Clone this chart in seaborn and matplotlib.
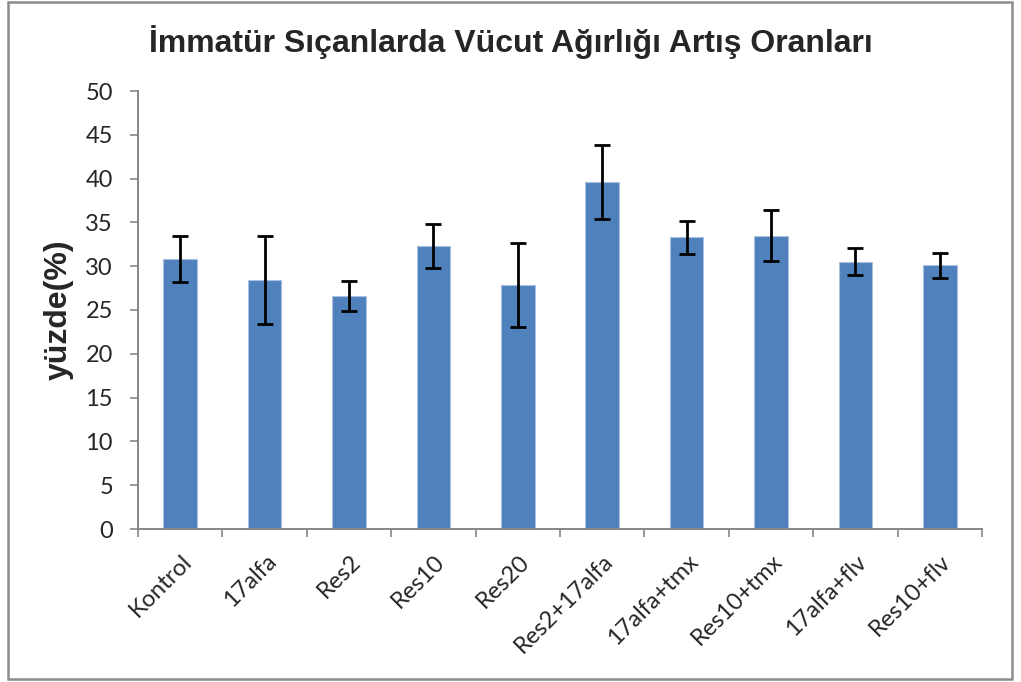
import numpy as np
import pandas as pd
import seaborn as sns
import matplotlib.pyplot as plt
import matplotlib.transforms as mtransforms
from matplotlib.patches import Rectangle

# groups and values
groups = ["Kontrol", "17alfa", "Res2", "Res10", "Res20", "Res2+17alfa",
          "17alfa+tmx", "Res10+tmx", "17alfa+flv", "Res10+flv"]
means = [30.8, 28.4, 26.6, 32.3, 27.9, 39.6, 33.3, 33.5, 30.5, 30.1]
errors = [2.6, 5.0, 1.75, 2.5, 4.8, 4.25, 1.9, 2.95, 1.55, 1.4]

df = pd.DataFrame({"grup": groups, "yuzde": means})

sns.set_style("white")
plt.rcParams["font.family"] = ["Lato", "DejaVu Sans"]
bold_font = ["Liberation Sans", "DejaVu Sans"]

fig = plt.figure(figsize=(10.21, 6.82), dpi=100)
ax = fig.add_axes([138 / 1021, 1 - 529 / 682, (982 - 138) / 1021, (529 - 91) / 682])

sns.barplot(data=df, x="grup", y="yuzde", color="#4F81BD", width=0.4,
            errorbar=None, saturation=1, edgecolor="#A9C0DE", linewidth=0.8, ax=ax)
ax.errorbar(x=np.arange(len(groups)), y=means, yerr=errors, fmt="none",
            ecolor="black", elinewidth=2, capsize=6, capthick=2)

ax.set_ylim(0, 50)
ax.set_xlim(-0.5, len(groups) - 0.5)
ax.set_yticks(range(0, 51, 5))
ax.tick_params(axis="y", labelsize=17, length=6, width=1.2, color="#868686",
               direction="out", left=True, pad=12)
ax.set_xticks(np.arange(len(groups) + 1) - 0.5, minor=True)
ax.tick_params(axis="x", which="major", length=0, labelsize=17, pad=21)
ax.tick_params(axis="x", which="minor", length=6, width=1.2, color="#868686", bottom=True)
ax.set_xticklabels(groups, rotation=45, ha="right", va="center", rotation_mode="anchor")
shift = mtransforms.ScaledTranslation(8 / 100, 0, fig.dpi_scale_trans)
for lab in ax.get_xticklabels():
    lab.set_transform(lab.get_transform() + shift)

for side in ["top", "right"]:
    ax.spines[side].set_visible(False)
for side in ["left", "bottom"]:
    ax.spines[side].set_color("#868686")
    ax.spines[side].set_linewidth(1.4)

ax.set_xlabel("")
ax.set_ylabel("yüzde(%)", fontsize=23, fontweight="bold", labelpad=8, family=bold_font)
fig.text(0.5, 1 - 42 / 682, "İmmatür Sıçanlarda Vücut Ağırlığı Artış Oranları",
         ha="center", va="center", fontsize=23, fontweight="bold", family=bold_font)

fig.patches.append(Rectangle((8 / 1021, 3 / 682), 1004 / 1021, 677 / 682,
                             transform=fig.transFigure, fill=False,
                             edgecolor="#8C8C8C", linewidth=1.8))

fig.savefig("out.png", dpi=100)
